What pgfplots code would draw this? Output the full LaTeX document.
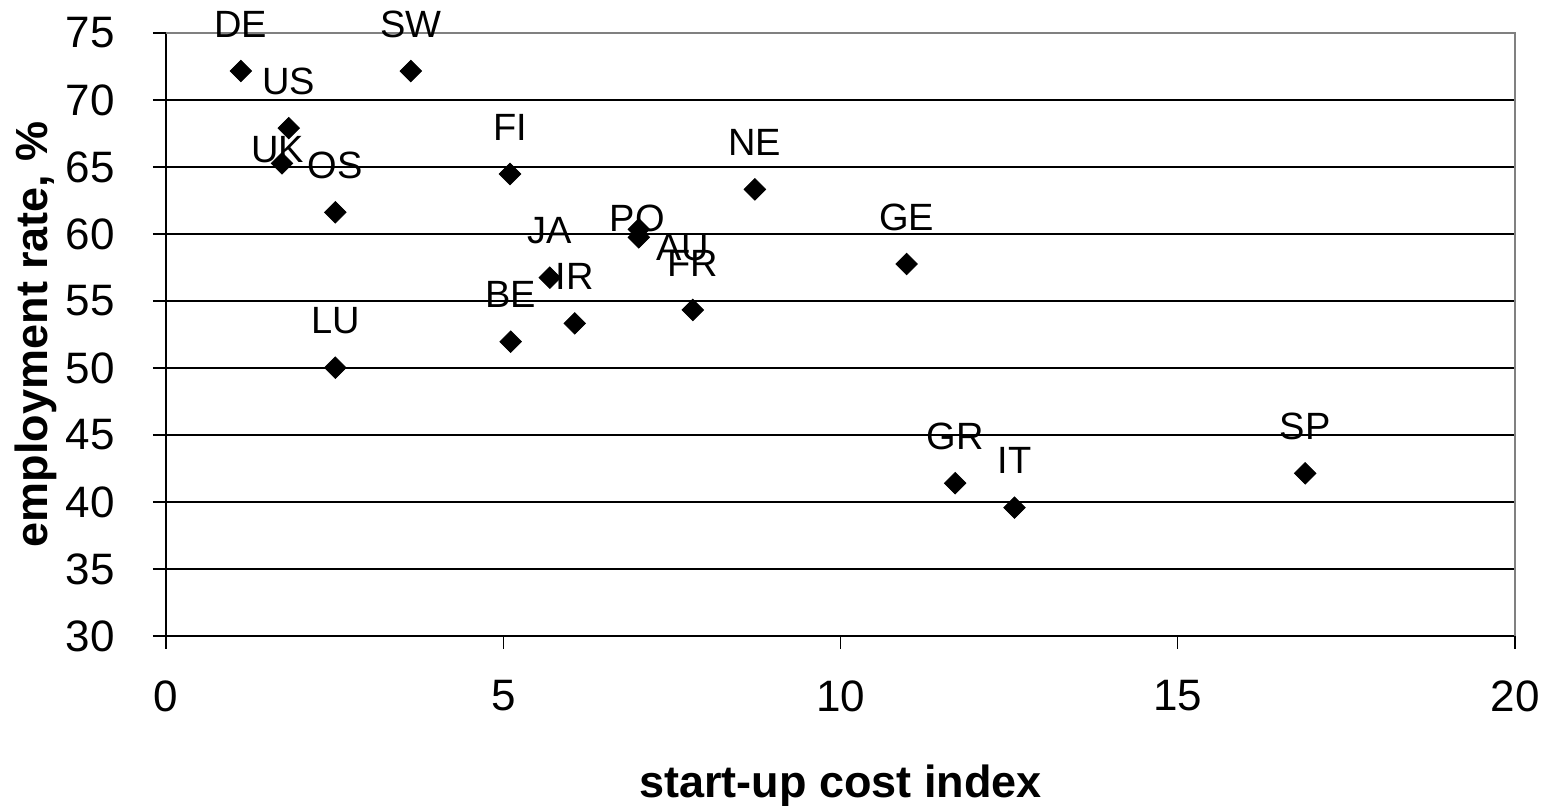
\documentclass[border=0pt]{standalone}
\usepackage{fontspec}
\setmainfont{Liberation Sans}
\usepackage{pgfplots}
\pgfplotsset{compat=1.18}
\usepackage{pgfplotstable}

% start-up cost index vs. employment rate; dx/dy = label offset (pt)
\pgfplotstableread{
name cost rate dx dy
DE 1.11 72.16 0 23.5
SW 3.63 72.16 0 23.5
US 1.82 67.90 0 23.5
UK 1.72 65.27 -2.1 6.7
OS 2.51 61.62 0 23.5
FI 5.10 64.48 0 23.5
NE 8.73 63.33 0 23.5
JA 5.69 56.74 0 23.5
PO 7.01 60.35 -0.8 5.2
AU 7.01 59.75 22 -5.3
FR 7.81 54.33 0 23.5
IR 6.06 53.33 0 23.5
BE 5.11 51.96 0 23.5
LU 2.51 50.02 0 23.5
GE 10.98 57.76 0 23.5
GR 11.70 41.40 0 23.5
IT 12.58 39.58 0 23.5
SP 16.89 42.14 0 23.5
}\startupdata

\begin{document}
\begin{tikzpicture}
\useasboundingbox (-83pt,-85pt) rectangle (696pt,318pt);
\begin{axis}[
  at={(0,0)}, anchor=south west,
  scale only axis, width=674.5pt, height=301.5pt,
  xmin=0, xmax=20, ymin=30, ymax=75,
  xtick={0,5,...,20}, ytick={30,35,...,75},
  axis x line*=bottom, axis y line*=left,
  axis line style={black, line width=0.7pt},
  ymajorgrids, grid style={black, line width=0.7pt},
  tick align=outside, major tick length=6.5pt,
  tick style={black, line width=0.7pt},
  /pgf/number format/assume math mode=true,
  ticklabel style={font=\fontsize{22}{26}\selectfont},
  xticklabel style={anchor=north, inner sep=0pt, yshift=-15.5pt},
  yticklabel style={anchor=east, inner sep=0pt, xshift=-19pt},
  xlabel={start-up cost index},
  xlabel style={at={(axis description cs:0.5,-0.249)}, anchor=center,
    font=\bfseries\fontsize{22.5}{27}\selectfont},
  ylabel={employment rate, \%},
  ylabel style={at={(axis description cs:-0.0964,0.5)}, anchor=center,
    font=\bfseries\fontsize{22.5}{27}\selectfont},
  clip=false,
]
\addplot[only marks, mark=square*, mark size=3.8pt,
  mark options={rotate=45, fill=black, draw=black},
  point meta=explicit symbolic,
  visualization depends on={\thisrow{dx}\as\labeldx},
  visualization depends on={\thisrow{dy}\as\labeldy},
  nodes near coords,
  nodes near coords style={anchor=center, inner sep=0pt,
    xshift=\labeldx pt, yshift=\labeldy pt,
    font=\fontsize{19}{22}\selectfont, text=black},
] table[x=cost, y=rate, meta=name] {\startupdata};
\draw[gray, line width=1pt] (rel axis cs:0,1) -- (rel axis cs:1,1) -- (rel axis cs:1,0);
\end{axis}
\end{tikzpicture}
\end{document}
